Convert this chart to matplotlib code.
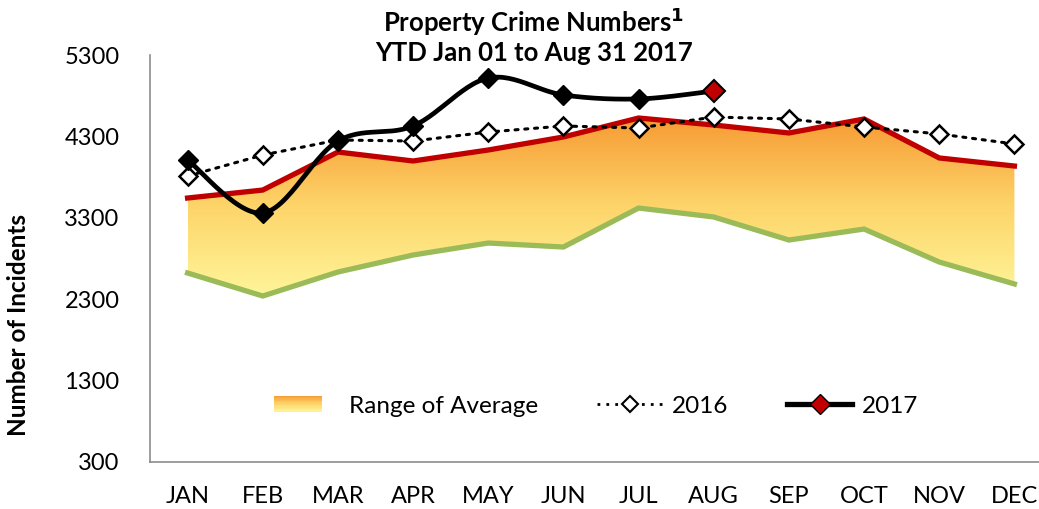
import numpy as np
import matplotlib
matplotlib.use("Agg")
import matplotlib.pyplot as plt
from matplotlib.legend_handler import HandlerBase
from matplotlib.patches import Rectangle
from matplotlib.lines import Line2D
from matplotlib.colors import LinearSegmentedColormap

plt.rcParams['font.family'] = ['Lato', 'DejaVu Sans']

months = ["JAN", "FEB", "MAR", "APR", "MAY", "JUN", "JUL", "AUG", "SEP", "OCT", "NOV", "DEC"]
avg_high = [3543, 3641, 4108, 3998, 4133, 4293, 4526, 4440, 4342, 4514, 4035, 3936]
avg_low = [2622, 2339, 2634, 2843, 2990, 2941, 3420, 3310, 3027, 3162, 2757, 2487]
y2016 = [3813, 4071, 4256, 4243, 4354, 4428, 4403, 4538, 4514, 4416, 4330, 4207]
y2017 = [4010, 3359, 4243, 4428, 5017, 4809, 4760, 4858]
yticks = [300, 1300, 2300, 3300, 4300, 5300]

RED = "#C00000"
GREEN = "#9BBB59"
TOP_C = "#F79A33"
BOT_C = "#FFF59A"
cmap = LinearSegmentedColormap.from_list("rng", [BOT_C, "#FDD56A", TOP_C])


def smooth(xs, ys, yscale, n=30):
    # Catmull-Rom style Bezier smoothing (like spreadsheet smoothed lines)
    xs = np.asarray(xs, float)
    ys = np.asarray(ys, float) / yscale
    P = np.column_stack([xs, ys])
    out = []
    for i in range(len(P) - 1):
        p0 = P[i - 1] if i > 0 else P[i]
        p1 = P[i]
        p2 = P[i + 1]
        p3 = P[i + 2] if i + 2 < len(P) else P[i + 1]
        c1 = p1 + (p2 - p0) / 6.0
        c2 = p2 - (p3 - p1) / 6.0
        t = np.linspace(0, 1, n)[:, None]
        seg = ((1 - t) ** 3) * p1 + 3 * ((1 - t) ** 2) * t * c1 + 3 * (1 - t) * t ** 2 * c2 + t ** 3 * p2
        out.append(seg if i == 0 else seg[1:])
    out = np.vstack(out)
    return out[:, 0], out[:, 1] * yscale


class GradientHandler(HandlerBase):
    def create_artists(self, legend, orig_handle, xdescent, ydescent, width, height, fontsize, trans):
        arts = []
        n = 12
        w = width * 0.73
        x0 = -xdescent
        h = height * 0.95
        y0 = -ydescent + (height - h) / 2
        for k in range(n):
            c = cmap(1 - (k + 0.5) / n)
            r = Rectangle((x0, y0 + h - (k + 1) * h / n), w, h / n + 0.3, facecolor=c, edgecolor='none', transform=trans)
            arts.append(r)
        return arts


fig = plt.figure(figsize=(10.39, 5.09), dpi=100)
ax = fig.add_axes([150 / 1039, 47 / 509, 902 / 1039, 407 / 509])

x = np.arange(len(months))

# gradient fill between low and high
poly = ax.fill_between(x, avg_low, avg_high, facecolor='none', edgecolor='none', zorder=1)
ytop = max(avg_high)
ybot = min(avg_low)
grad = np.linspace(0, 1, 256)[:, None]
im = ax.imshow(grad, cmap=cmap, origin='lower', aspect='auto',
               extent=[x[0], x[-1], ybot, ytop], zorder=1)
im.set_clip_path(poly.get_paths()[0], transform=ax.transData)
ax.set_xlim(-0.5, 11.5)
ax.set_ylim(300, 5300)

ax.plot(x, avg_low, color=GREEN, lw=3.8, zorder=2, solid_joinstyle='miter')
ax.plot(x, avg_high, color=RED, lw=3.8, zorder=3, solid_joinstyle='miter')

ax.plot(x, y2016, color='black', lw=2.2, ls=(0, (1, 2.2)), dash_capstyle='round', zorder=4,
        marker='D', markersize=9, markerfacecolor='white', markeredgecolor='black', markeredgewidth=1.8)

x17 = np.arange(len(y2017))
sx, sy = smooth(x17, y2017, yscale=924.0)
ax.plot(sx, sy, color='black', lw=3.4, zorder=5)
ax.plot(x17[:-1], y2017[:-1], ls='none', marker='D', markersize=10, markerfacecolor='black',
        markeredgecolor='black', zorder=6)
ax.plot(x17[-1:], y2017[-1:], ls='none', marker='D', markersize=11, markerfacecolor=RED,
        markeredgecolor='black', markeredgewidth=1.5, zorder=6)

ax.set_xticks(x)
ax.set_xticklabels(months, fontsize=17)
ax.set_yticks(yticks)
ax.set_yticklabels([str(v) for v in yticks], fontsize=17)
ax.tick_params(axis='both', length=0)
ax.tick_params(axis='x', pad=17)
ax.tick_params(axis='y', pad=22)
for s in ['top', 'right']:
    ax.spines[s].set_visible(False)
for s in ['left', 'bottom']:
    ax.spines[s].set_color('#8C8C8C')
    ax.spines[s].set_linewidth(1.2)

fig.text(19 / 1039, 1 - 325 / 509, "Number of Incidents", rotation=90, fontsize=17.5,
         fontweight='bold', ha='center', va='center')

fig.text(534 / 1039, 1 - 22 / 509, "Property Crime Numbers$^{\\mathbf{1}}$", fontsize=18.5,
         fontweight='bold', ha='center', va='center')
fig.text(534 / 1039, 1 - 53 / 509, "YTD Jan 01 to Aug 31 2017", fontsize=18.5,
         fontweight='bold', ha='center', va='center')

h_rng = Rectangle((0, 0), 1, 1)
h16 = Line2D([], [], color='black', lw=2, ls=(0, (1, 2.2)), marker='D', markersize=8,
             markerfacecolor='white', markeredgecolor='black', markeredgewidth=1.5)
h17 = Line2D([], [], color='black', lw=3.8, marker='D', markersize=10,
             markerfacecolor=RED, markeredgecolor='black')
leg = ax.legend([h_rng, h16, h17], ["Range of Average", "2016", "2017"],
                handler_map={Rectangle: GradientHandler()},
                loc='center left', bbox_to_anchor=((274 - 150) / 902, (462 - 406) / 407), ncol=3,
                frameon=False, borderpad=0, borderaxespad=0,
                fontsize=17.5, handlelength=2.7, handletextpad=0.4, columnspacing=2.4)

fig.savefig("out.png", dpi=100)
